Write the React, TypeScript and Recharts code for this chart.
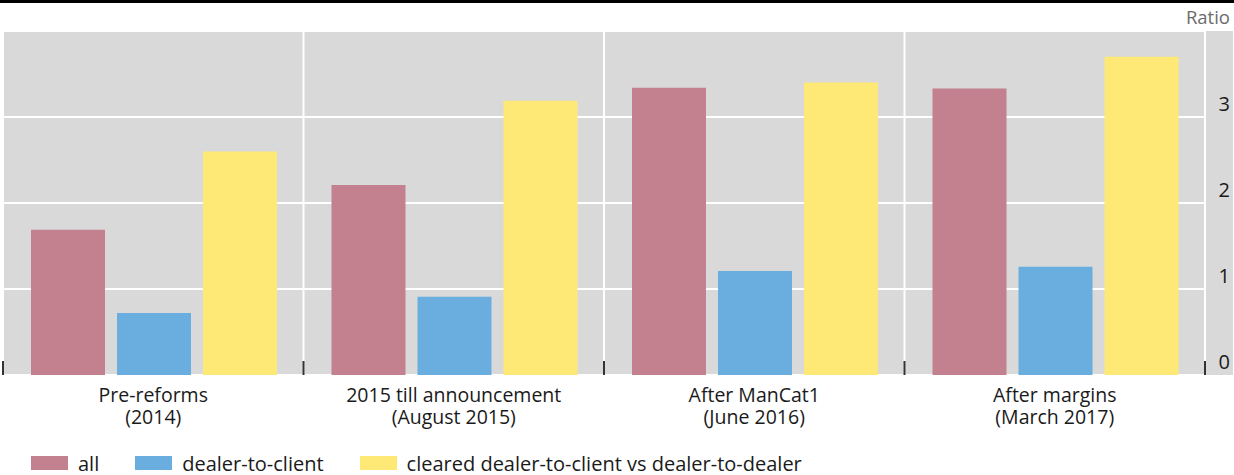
import React from 'react';
import * as R from 'recharts';
import {
  BarChart,
  Bar,
  XAxis,
  YAxis,
  CartesianGrid,
  Legend
} from 'recharts';

const periods = ['Pre-reforms', '2015 till announcement', 'After ManCat1', 'After margins'];
const periodDates = ['(2014)', '(August 2015)', '(June 2016)', '(March 2017)'];
const allValues = [1.69, 2.21, 3.34, 3.33];
const dealerToClient = [0.72, 0.91, 1.21, 1.26];
const clearedVsDealer = [2.6, 3.19, 3.4, 3.7];
const yTicks = [0, 1, 2, 3];

const series = [
  { key: 'all', name: 'all', color: '#C3808F' },
  { key: 'dtc', name: 'dealer-to-client', color: '#6AAEE0' },
  { key: 'cleared', name: 'cleared dealer-to-client vs dealer-to-dealer', color: '#FFE976' }
];

const data = periods.map((p, i) => ({
  name: p,
  sub: periodDates[i],
  all: allValues[i],
  dtc: dealerToClient[i],
  cleared: clearedVsDealer[i]
}));

const FONT = '"Open Sans", "Noto Sans", sans-serif';

// category boundaries: split the plot width evenly by the number of periods
const boundaries = (left: number, width: number) =>
  Array.from({ length: periods.length + 1 }, (_, i) => left + (i * width) / periods.length);

const CategoryTick = (props: any) => {
  const { x, y, payload, index } = props;
  return (
    <g>
      <text x={x} y={y + 19} textAnchor="middle" fill="#1a1a1a" fontSize={19.5} fontFamily={FONT}>
        {payload.value}
      </text>
      <text x={x} y={y + 41} textAnchor="middle" fill="#1a1a1a" fontSize={19.5} fontFamily={FONT}>
        {periodDates[index]}
      </text>
    </g>
  );
};

const RatioTick = (props: any) => {
  const { x, y, payload } = props;
  return (
    <text x={x + 17} y={y - 6} textAnchor="end" fill="#1a1a1a" fontSize={20} fontFamily={FONT}>
      {payload.value}
    </text>
  );
};

const BoundaryTicks = () => {
  const area = (R as any).usePlotArea ? (R as any).usePlotArea() : null;
  if (!area) return null;
  const bottom = area.y + area.height;
  return (
    <g>
      {boundaries(area.x, area.width).map((x, i) => (
        <line key={i} x1={x} x2={x} y1={bottom - 14} y2={bottom} stroke="#333" strokeWidth={2} />
      ))}
    </g>
  );
};

const LegendContent = () => (
  <div style={{ display: 'flex', alignItems: 'center', height: 28, fontFamily: FONT, fontSize: 20, color: '#1a1a1a' }}>
    {series.map((s) => (
      <div key={s.key} style={{ display: 'flex', alignItems: 'center', marginRight: 36 }}>
        <span style={{ width: 37, height: 14, background: s.color, display: 'inline-block', marginRight: 10 }} />
        <span>{s.name}</span>
      </div>
    ))}
  </div>
);

export default function App() {
  return (
    <div style={{ position: 'absolute', left: 0, top: 0, width: 1234, height: 475, background: '#fff' }}>
      <div style={{ position: 'absolute', left: 0, top: 0, width: 1234, height: 3, background: '#000' }} />
      <div style={{ position: 'absolute', left: 3, top: 31, width: 1230, height: 344, background: '#D9D9D9' }} />
      <div
        style={{
          position: 'absolute',
          right: 4,
          top: 4,
          fontFamily: FONT,
          fontSize: 18.5,
          color: '#6b6b6b'
        }}
      >
        Ratio
      </div>
      <div style={{ position: 'absolute', left: 0, top: 0 }}>
        <BarChart
          width={1234}
          height={475}
          data={data}
          margin={{ top: 31, right: 0, left: 3, bottom: 0 }}
          barCategoryGap={28}
          barGap={12}
        >
          <CartesianGrid
            yAxisId="r"
            stroke="#fff"
            strokeWidth={2}
            verticalCoordinatesGenerator={({ offset }: any) =>
              boundaries(offset.left, offset.width)
            }
          />
          <XAxis
            dataKey="name"
            axisLine={false}
            tickLine={false}
            tick={<CategoryTick />}
            height={72}
            interval={0}
          />
          <YAxis
            yAxisId="r"
            orientation="right"
            domain={[0, 4]}
            ticks={yTicks}
            axisLine={false}
            tickLine={false}
            tick={<RatioTick />}
            width={29}
          />
          <Legend
            verticalAlign="bottom"
            content={<LegendContent />}
            wrapperStyle={{ left: 31, bottom: -2 }}
          />
          {series.map((s) => (
            <Bar
              key={s.key}
              yAxisId="r"
              dataKey={s.key}
              name={s.name}
              fill={s.color}
              isAnimationActive={false}
            />
          ))}
          <BoundaryTicks />
        </BarChart>
      </div>
    </div>
  );
}
